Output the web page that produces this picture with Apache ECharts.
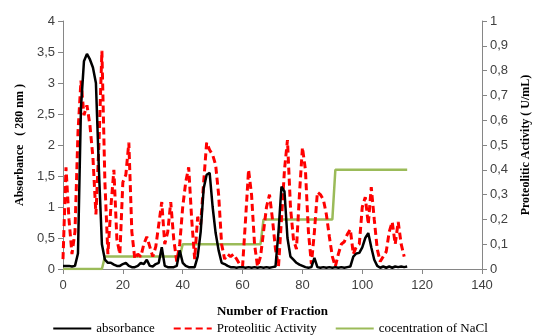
<!DOCTYPE html>
<html>
<head>
<meta charset="utf-8">
<script src="https://cdn.jsdelivr.net/npm/echarts@6/dist/echarts.min.js"></script>
<style>
  html, body { margin: 0; padding: 0; background: #fff; }
  #main { width: 540px; height: 336px; }
</style>
</head>
<body>
<div id="main"></div>
<script>
// absorbance (280 nm), one value per fraction starting at 0
var absorbance = [
  0.05, 0.05, 0.05, 0.04, 0.05, 0.25, 2.6, 3.35, 3.47, 3.38,
  3.25, 3.0, 1.6, 0.4, 0.15, 0.1, 0.1, 0.07, 0.05, 0.05,
  0.08, 0.1, 0.05, 0.03, 0.03, 0.05, 0.1, 0.08, 0.15, 0.05,
  0.04, 0.08, 0.1, 0.35, 0.05, 0.03, 0.03, 0.03, 0.05, 0.3,
  0.1, 0.05, 0.03, 0.03, 0.03, 0.2, 0.6, 1.3, 1.52, 1.55,
  1.0, 0.58, 0.3, 0.1, 0.08, 0.05, 0.03, 0.03, 0.02, 0.03,
  0.03, 0.02, 0.03, 0.02, 0.03, 0.02, 0.03, 0.02, 0.03, 0.02,
  0.03, 0.04, 0.6, 1.33, 1.25, 0.5, 0.2, 0.15, 0.1, 0.07,
  0.05, 0.03, 0.02, 0.03, 0.18, 0.03, 0.02, 0.03, 0.02, 0.03,
  0.02, 0.03, 0.02, 0.03, 0.02, 0.03, 0.04, 0.2, 0.25, 0.26,
  0.35, 0.5, 0.58, 0.35, 0.15, 0.05, 0.02, 0.04, 0.02, 0.04,
  0.02, 0.04, 0.03, 0.04, 0.03, 0.04
];

// proteolitic activity (U/mL), right axis
var activity = [
  0.04, 0.41, 0.2, 0.06, 0.15, 0.55, 0.76, 0.62, 0.66, 0.58,
  0.45, 0.22, 0.5, 0.88, 0.35, 0.06, 0.25, 0.40, 0.12, 0.06,
  0.35, 0.38, 0.51, 0.15, 0.04, 0.06, 0.05, 0.1, 0.13, 0.09,
  0.05, 0.09, 0.18, 0.27, 0.1, 0.15, 0.27, 0.12, 0.03, 0.1,
  0.25, 0.35, 0.41, 0.2, 0.04, 0.21, 0.18, 0.35, 0.51, 0.48,
  0.46, 0.42, 0.3, 0.1, 0.04, 0.06, 0.05, 0.06, 0.04, 0.02,
  0.01, 0.2, 0.40, 0.3, 0.1, 0.01, 0.05, 0.15, 0.25, 0.30,
  0.2, 0.08, 0.01, 0.2, 0.4, 0.52, 0.25, 0.12, 0.08, 0.3,
  0.49, 0.40, 0.15, 0.02, 0.15, 0.31, 0.3, 0.28, 0.22, 0.13,
  0.05, 0.01, 0.06, 0.10, 0.11, 0.14, 0.16, 0.06, 0.09, 0.1,
  0.25, 0.29, 0.18, 0.33, 0.2, 0.08, 0.03, 0.05, 0.07, 0.15,
  0.19, 0.1, 0.19, 0.1, 0.05
];

// NaCl step gradient (M), right axis
var naclFraction = [0, 13, 14, 39, 40, 66, 67, 90, 91, 115];
var naclConc = [0, 0, 0.05, 0.05, 0.1, 0.1, 0.2, 0.2, 0.4, 0.4];

var leftTicks = ['0', '0,5', '1', '1,5', '2', '2,5', '3', '3,5', '4'];

function pairs(arr) {
  return arr.map(function (v, i) { return [i, v]; });
}

var chart = echarts.init(document.getElementById('main'));

var tickFont = { fontFamily: 'Liberation Sans', fontSize: 13, color: '#404040' };
var axisLine = { lineStyle: { color: '#868686', width: 1 } };

var option = {
  animation: false,
  backgroundColor: '#fff',
  grid: { left: 63, right: 53, top: 21, bottom: 67 },
  legend: {
    top: 317,
    left: 'center',
    itemGap: 18,
    itemWidth: 38,
    itemHeight: 10,
    itemStyle: { opacity: 0 },
    textStyle: { fontFamily: 'Liberation Serif', fontSize: 13, color: '#000' },
    data: ['absorbance', 'Proteolitic Activity', 'cocentration of NaCl']
  },
  xAxis: {
    type: 'value',
    min: 0, max: 140, interval: 20,
    name: 'Number of Fraction',
    nameLocation: 'middle',
    nameGap: 36,
    nameTextStyle: { fontFamily: 'Liberation Serif', fontWeight: 'bold', fontSize: 13, color: '#000' },
    axisLine: axisLine,
    axisTick: { show: true, length: 5, lineStyle: { color: '#868686' } },
    axisLabel: Object.assign({ margin: 10 }, tickFont),
    splitLine: { show: false }
  },
  yAxis: [
    {
      type: 'value',
      min: 0, max: 4, interval: 0.5,
      name: 'Absorbance   ( 280 nm )',
      nameLocation: 'middle',
      nameGap: 36,
      nameTextStyle: { fontFamily: 'Liberation Serif', fontWeight: 'bold', fontSize: 12, color: '#000' },
      axisLine: Object.assign({ show: true }, axisLine),
      axisTick: { show: true, length: 5, lineStyle: { color: '#868686' } },
      axisLabel: Object.assign({
        margin: 8,
        formatter: function (v) { return leftTicks[Math.round(v * 2)]; }
      }, tickFont),
      splitLine: { show: false }
    },
    {
      type: 'value',
      min: 0, max: 1, interval: 0.1,
      position: 'right',
      name: 'Proteolitic Activity ( U/mL)',
      nameLocation: 'middle',
      nameGap: 38,
      nameRotate: 90,
      nameTextStyle: { fontFamily: 'Liberation Serif', fontWeight: 'bold', fontSize: 12, color: '#000' },
      axisLine: Object.assign({ show: true }, axisLine),
      axisTick: { show: true, length: 5, lineStyle: { color: '#868686' } },
      axisLabel: Object.assign({
        margin: 8,
        formatter: function (v) { return String(Math.round(v * 10) / 10).replace('.', ','); }
      }, tickFont),
      splitLine: { show: false }
    }
  ],
  series: [
    {
      name: 'cocentration of NaCl',
      type: 'line',
      yAxisIndex: 1,
      symbol: 'none',
      z: 1,
      color: '#9BBB59',
      lineStyle: { color: '#9BBB59', width: 2.5 },
      data: naclFraction.map(function (f, i) { return [f, naclConc[i]]; })
    },
    {
      name: 'Proteolitic Activity',
      type: 'line',
      yAxisIndex: 1,
      symbol: 'none',
      z: 2,
      color: '#FF0000',
      lineStyle: { color: '#FF0000', width: 3, type: [7, 4] },
      data: pairs(activity)
    },
    {
      name: 'absorbance',
      type: 'line',
      yAxisIndex: 0,
      symbol: 'none',
      z: 3,
      color: '#000',
      lineStyle: { color: '#000', width: 2.5 },
      data: pairs(absorbance)
    }
  ]
};

chart.setOption(option);
</script>
</body>
</html>
